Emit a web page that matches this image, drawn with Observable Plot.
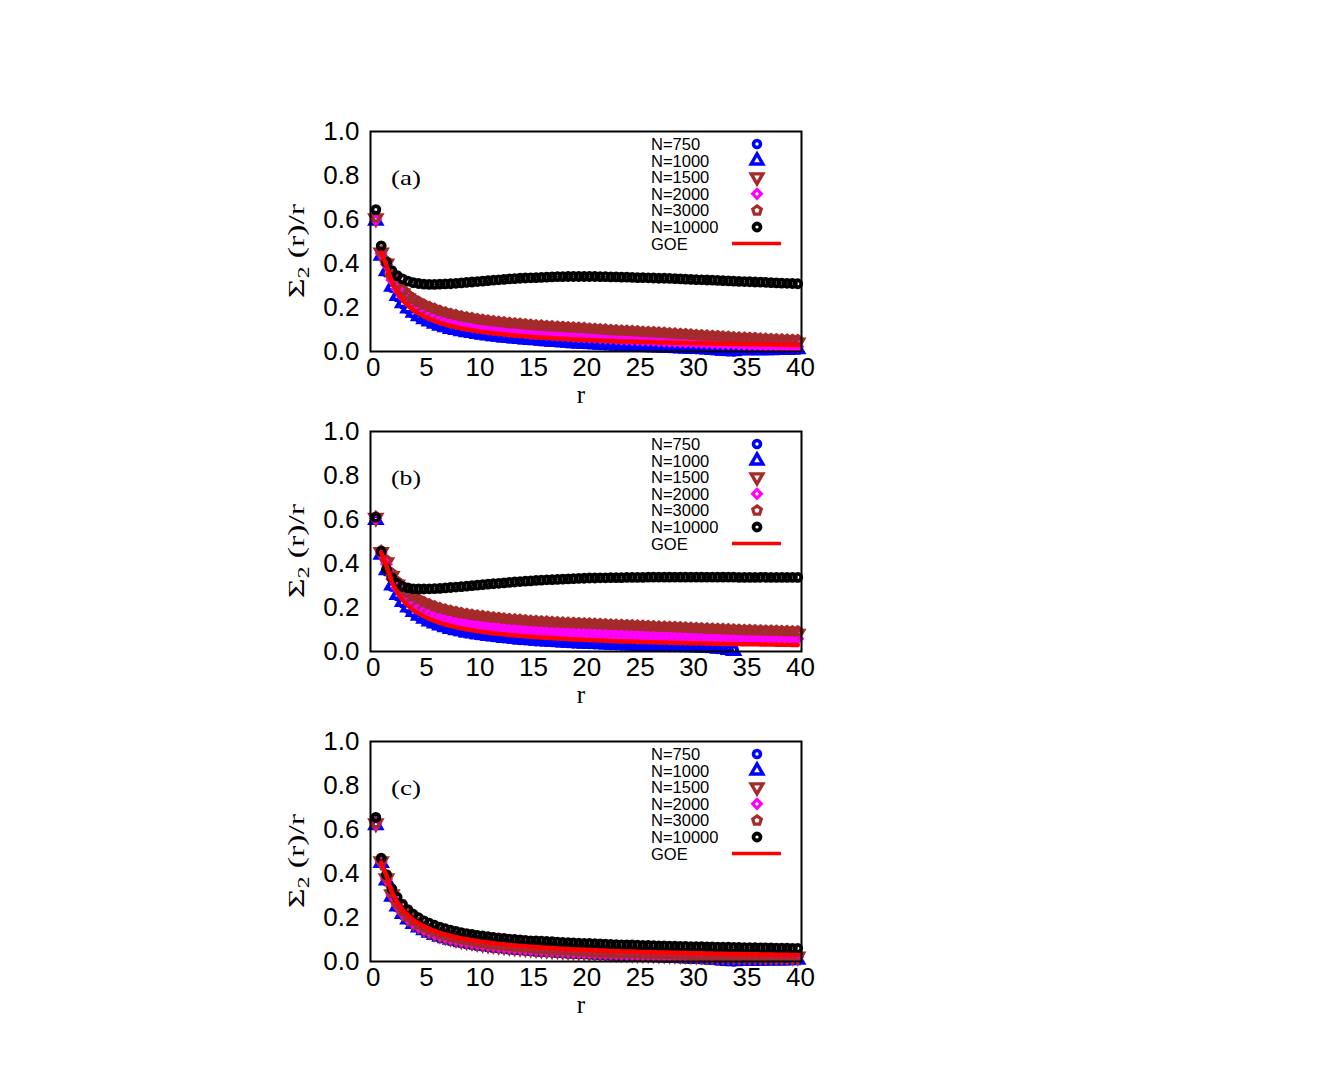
<!DOCTYPE html>
<html><head><meta charset="utf-8">
<script src="https://cdn.jsdelivr.net/npm/d3@7"></script>
<script src="https://cdn.jsdelivr.net/npm/@observablehq/plot@0.6"></script>
<style>
body{margin:0;background:#fff;}
#page{position:relative;width:1329px;height:1080px;overflow:hidden;background:#fff;}
.panel{position:absolute;left:270px;}
#overlay{position:absolute;left:0;top:0;pointer-events:none;}
</style></head><body><div id="page"></div>
<script>
// ---------- data ----------
const rGrid = [0.25,0.75,1.25,1.75,2.25,2.75,3.25,3.75,4.25,4.75,5.25,5.75,6.25,6.75,7.25,7.75,8.25,8.75,9.25,9.75,
10.25,10.75,11.25,11.75,12.25,12.75,13.25,13.75,14.25,14.75,15.25,15.75,16.25,16.75,17.25,17.75,18.25,18.75,19.25,19.75,
20.25,20.75,21.25,21.75,22.25,22.75,23.25,23.75,24.25,24.75,25.25,25.75,26.25,26.75,27.25,27.75,28.25,28.75,29.25,29.75,
30.25,30.75,31.25,31.75,32.25,32.75,33.25,33.75,34.25,34.75,35.25,35.75,36.25,36.75,37.25,37.75,38.25,38.75,39.25,39.75];

const goeR = rGrid.slice(1);
const goeV = [0.450,0.390,0.317,0.270,0.235,0.210,0.189,0.173,0.160,
0.148,0.139,0.130,0.123,0.116,0.111,0.105,0.101,0.097,0.093,
0.089,0.086,0.083,0.080,0.078,0.075,0.073,0.071,0.069,0.067,
0.065,0.064,0.062,0.061,0.059,0.058,0.057,0.055,0.054,0.053,
0.052,0.051,0.050,0.049,0.048,0.047,0.046,0.046,0.045,0.044,
0.043,0.043,0.042,0.041,0.041,0.040,0.040,0.039,0.0385,0.038,
0.037,0.037,0.0365,0.036,0.0355,0.035,0.0346,0.034,0.034,0.033,
0.033,0.033,0.032,0.032,0.0315,0.031,0.031,0.0305,0.030,0.030];

// panel (a)
const a750 = [0.600,0.440,0.360,0.290,0.248,0.216,0.192,0.173,0.157,0.144,
0.133,0.123,0.115,0.108,0.101,0.096,0.090,0.086,0.082,0.078,
0.075,0.071,0.068,0.065,0.063,0.060,0.058,0.056,0.054,0.052,
0.050,0.048,0.046,0.044,0.042,0.041,0.039,0.037,0.036,0.034,
0.033,0.032,0.030,0.029,0.028,0.026,0.025,0.024,0.023,0.022,
0.021,0.020,0.019,0.018,0.017,0.016,0.015,0.014,0.013,0.012,
0.011,0.010,0.008,0.007,0.005,0.003,0.001,0.000];
const a1000 = [0.595,0.435,0.365,0.295,0.252,0.220,0.196,0.176,0.160,0.147,
0.136,0.126,0.117,0.110,0.103,0.098,0.092,0.088,0.084,0.080,
0.076,0.073,0.070,0.067,0.064,0.062,0.059,0.057,0.055,0.053,
0.051,0.049,0.047,0.045,0.043,0.042,0.040,0.038,0.037,0.035,
0.034,0.033,0.031,0.030,0.029,0.027,0.026,0.025,0.024,0.023,
0.022,0.021,0.020,0.019,0.018,0.017,0.016,0.015,0.014,0.013,
0.012,0.011,0.009,0.008,0.006,0.004,0.002,0.001,0.006,0.006,
0.006,0.006,0.006,0.006,0.006,0.007,0.007,0.007,0.008,0.010];
const a1500 = [0.605,0.450,0.400,0.335,0.296,0.265,0.242,0.224,0.210,0.198,
0.187,0.178,0.169,0.162,0.155,0.150,0.144,0.140,0.136,0.132,
0.128,0.125,0.122,0.119,0.117,0.114,0.112,0.110,0.108,0.106,
0.104,0.102,0.100,0.099,0.097,0.096,0.094,0.093,0.092,0.090,
0.089,0.088,0.086,0.085,0.083,0.082,0.081,0.079,0.078,0.077,
0.075,0.074,0.073,0.071,0.070,0.068,0.067,0.065,0.064,0.062,
0.061,0.060,0.058,0.057,0.056,0.054,0.053,0.052,0.051,0.050,
0.049,0.048,0.047,0.046,0.045,0.044,0.043,0.042,0.042,0.041];
const a2000 = [0.600,0.445,0.395,0.325,0.283,0.250,0.226,0.206,0.190,0.177,
0.165,0.156,0.147,0.140,0.133,0.128,0.122,0.118,0.114,0.110,
0.106,0.103,0.100,0.097,0.095,0.092,0.090,0.088,0.086,0.083,
0.081,0.080,0.078,0.076,0.074,0.073,0.071,0.069,0.068,0.066,
0.065,0.064,0.062,0.061,0.059,0.058,0.056,0.055,0.054,0.053,
0.052,0.051,0.050,0.048,0.047,0.046,0.045,0.044,0.043,0.042,
0.041,0.040,0.039,0.038,0.037,0.036,0.035,0.034,0.033,0.032,
0.031,0.030,0.029,0.028,0.027,0.026,0.025,0.024,0.023,0.022];
const a3000 = [0.610,0.455,0.410,0.347,0.310,0.280,0.258,0.240,0.226,0.214,
0.203,0.194,0.185,0.178,0.171,0.166,0.160,0.156,0.152,0.148,
0.144,0.141,0.138,0.135,0.133,0.130,0.128,0.126,0.124,0.122,
0.119,0.118,0.116,0.115,0.113,0.112,0.110,0.109,0.108,0.107,
0.104,0.103,0.101,0.100,0.098,0.097,0.095,0.094,0.093,0.092,
0.090,0.089,0.088,0.086,0.085,0.083,0.082,0.080,0.079,0.077,
0.075,0.074,0.073,0.071,0.070,0.068,0.067,0.065,0.064,0.063,
0.062,0.061,0.059,0.058,0.057,0.056,0.055,0.054,0.053,0.052];
const a10000 = [0.645,0.480,0.405,0.368,0.345,0.330,0.320,0.313,0.309,0.306,
0.305,0.305,0.306,0.307,0.308,0.310,0.312,0.314,0.316,0.318,
0.320,0.322,0.324,0.326,0.328,0.330,0.331,0.333,0.334,0.335,
0.336,0.337,0.338,0.339,0.340,0.340,0.341,0.341,0.341,0.341,
0.341,0.341,0.340,0.340,0.339,0.339,0.338,0.338,0.337,0.336,
0.336,0.335,0.334,0.333,0.333,0.332,0.331,0.330,0.329,0.328,
0.327,0.326,0.325,0.324,0.323,0.322,0.321,0.320,0.319,0.318,
0.317,0.316,0.315,0.314,0.313,0.312,0.311,0.310,0.309,0.308];

// panel (b)
const b750 = [0.600,0.445,0.365,0.295,0.252,0.220,0.196,0.176,0.159,0.145,
0.133,0.123,0.114,0.106,0.099,0.093,0.088,0.083,0.079,0.075,
0.072,0.069,0.066,0.063,0.060,0.058,0.055,0.053,0.051,0.049,
0.047,0.046,0.044,0.043,0.041,0.040,0.039,0.037,0.036,0.035,
0.034,0.033,0.032,0.031,0.030,0.029,0.028,0.027,0.026,0.026,
0.025,0.024,0.023,0.023,0.022,0.021,0.021,0.020,0.019,0.019,
0.018,0.017,0.016,0.014,0.012,0.010,0.008,0.008];
const b1000 = [0.598,0.440,0.370,0.300,0.257,0.225,0.200,0.180,0.163,0.149,
0.137,0.127,0.118,0.110,0.103,0.097,0.092,0.087,0.083,0.079,
0.075,0.072,0.069,0.066,0.063,0.061,0.058,0.056,0.054,0.052,
0.050,0.048,0.047,0.045,0.044,0.042,0.041,0.040,0.038,0.037,
0.036,0.035,0.034,0.033,0.032,0.031,0.030,0.029,0.028,0.028,
0.027,0.026,0.025,0.025,0.024,0.023,0.023,0.022,0.021,0.021,
0.020,0.019,0.018,0.016,0.014,0.011,0.007,0.003];
const b1500 = [0.608,0.452,0.405,0.343,0.304,0.275,0.252,0.234,0.219,0.207,
0.196,0.187,0.179,0.172,0.166,0.161,0.156,0.152,0.148,0.145,
0.142,0.139,0.136,0.134,0.131,0.129,0.127,0.125,0.123,0.122,
0.120,0.119,0.117,0.116,0.115,0.114,0.113,0.112,0.111,0.110,
0.109,0.108,0.107,0.106,0.105,0.104,0.103,0.102,0.101,0.100,
0.099,0.099,0.098,0.097,0.096,0.095,0.095,0.094,0.093,0.092,
0.092,0.091,0.090,0.089,0.089,0.088,0.087,0.087,0.086,0.085,
0.085,0.084,0.083,0.083,0.082,0.082,0.081,0.081,0.080,0.080];
const b2000 = [0.605,0.448,0.398,0.330,0.289,0.257,0.233,0.213,0.197,0.184,
0.172,0.163,0.155,0.148,0.141,0.136,0.131,0.127,0.123,0.119,
0.116,0.113,0.110,0.107,0.105,0.102,0.100,0.098,0.096,0.094,
0.093,0.091,0.090,0.088,0.087,0.086,0.085,0.084,0.083,0.082,
0.081,0.080,0.079,0.078,0.077,0.076,0.075,0.075,0.074,0.073,
0.072,0.072,0.071,0.070,0.070,0.069,0.068,0.068,0.067,0.067,
0.066,0.066,0.065,0.065,0.064,0.064,0.063,0.063,0.062,0.062,
0.061,0.061,0.061,0.060,0.060,0.059,0.059,0.059,0.058,0.058];
const b3000 = [0.612,0.458,0.415,0.355,0.318,0.290,0.268,0.251,0.237,0.225,
0.215,0.206,0.198,0.191,0.185,0.180,0.175,0.171,0.167,0.164,
0.161,0.158,0.155,0.153,0.150,0.148,0.146,0.144,0.142,0.140,
0.139,0.137,0.136,0.134,0.133,0.132,0.131,0.130,0.129,0.128,
0.127,0.126,0.125,0.124,0.123,0.122,0.121,0.120,0.119,0.118,
0.117,0.116,0.115,0.114,0.113,0.112,0.111,0.110,0.109,0.108,
0.107,0.106,0.105,0.104,0.103,0.102,0.101,0.100,0.099,0.098,
0.098,0.097,0.096,0.095,0.095,0.094,0.093,0.093,0.092,0.092];
const b10000 = [0.610,0.455,0.375,0.335,0.310,0.296,0.289,0.285,0.284,0.284,
0.285,0.286,0.287,0.289,0.291,0.293,0.295,0.297,0.299,0.302,
0.304,0.306,0.308,0.310,0.312,0.314,0.316,0.318,0.320,0.321,
0.323,0.324,0.326,0.327,0.328,0.329,0.330,0.331,0.332,0.333,
0.334,0.334,0.335,0.335,0.336,0.336,0.336,0.337,0.337,0.337,
0.337,0.338,0.338,0.338,0.338,0.338,0.338,0.338,0.338,0.338,
0.338,0.338,0.338,0.338,0.338,0.338,0.338,0.338,0.337,0.337,
0.337,0.337,0.337,0.337,0.337,0.337,0.337,0.337,0.337,0.337];

// panel (c)
const c750 = [0.622,0.450,0.365,0.292,0.247,0.213,0.188,0.168,0.152,0.139,
0.128,0.118,0.110,0.103,0.097,0.091,0.086,0.082,0.078,0.074,
0.070,0.067,0.064,0.061,0.059,0.056,0.054,0.052,0.050,0.048,
0.046,0.045,0.043,0.042,0.040,0.039,0.037,0.036,0.035,0.034,
0.033,0.032,0.030,0.029,0.028,0.027,0.026,0.025,0.024,0.023,
0.022,0.021,0.020,0.019,0.018,0.017,0.016,0.015,0.014,0.013,
0.012,0.011,0.009,0.008,0.006,0.004,0.002,0.000];
const c1000 = [0.620,0.448,0.368,0.295,0.250,0.216,0.191,0.171,0.155,0.142,
0.131,0.121,0.113,0.106,0.099,0.094,0.088,0.084,0.080,0.076,
0.072,0.069,0.066,0.063,0.061,0.058,0.056,0.054,0.052,0.050,
0.048,0.046,0.045,0.043,0.042,0.040,0.039,0.037,0.036,0.035,
0.034,0.033,0.031,0.030,0.029,0.028,0.027,0.026,0.025,0.024,
0.023,0.022,0.021,0.020,0.019,0.018,0.017,0.016,0.015,0.014,
0.013,0.012,0.010,0.009,0.007,0.005,0.003,0.001,0.004,0.004,
0.004,0.004,0.004,0.005,0.005,0.005,0.005,0.006,0.006,0.008];
const c1500 = [0.628,0.455,0.378,0.305,0.259,0.225,0.200,0.180,0.164,0.151,
0.140,0.131,0.122,0.115,0.108,0.103,0.097,0.093,0.089,0.085,
0.081,0.078,0.075,0.072,0.070,0.067,0.065,0.063,0.061,0.059,
0.057,0.055,0.054,0.052,0.051,0.049,0.048,0.047,0.046,0.045,
0.043,0.042,0.041,0.040,0.039,0.038,0.037,0.037,0.036,0.035,
0.034,0.034,0.033,0.032,0.032,0.031,0.031,0.030,0.030,0.029,
0.028,0.028,0.028,0.027,0.027,0.026,0.026,0.025,0.025,0.025,
0.025,0.025,0.024,0.024,0.024,0.023,0.023,0.023,0.022,0.022];
const c2000 = [0.625,0.452,0.375,0.302,0.256,0.222,0.197,0.177,0.161,0.148,
0.137,0.128,0.120,0.113,0.106,0.101,0.095,0.091,0.087,0.083,
0.079,0.076,0.073,0.070,0.068,0.065,0.063,0.061,0.059,0.057,
0.055,0.054,0.052,0.051,0.049,0.048,0.047,0.045,0.044,0.043,
0.042,0.041,0.040,0.039,0.038,0.037,0.036,0.035,0.035,0.034,
0.033,0.033,0.032,0.031,0.031,0.030,0.030,0.029,0.029,0.028,
0.027,0.027,0.027,0.026,0.026,0.025,0.025,0.024,0.024,0.024,
0.024,0.024,0.023,0.023,0.023,0.022,0.022,0.022,0.021,0.021];
const c3000 = [0.630,0.458,0.382,0.310,0.264,0.230,0.205,0.185,0.169,0.156,
0.144,0.135,0.126,0.119,0.112,0.107,0.101,0.097,0.093,0.089,
0.084,0.081,0.078,0.075,0.073,0.070,0.068,0.066,0.064,0.062,
0.059,0.058,0.056,0.055,0.053,0.052,0.051,0.049,0.048,0.047,
0.045,0.044,0.043,0.042,0.041,0.040,0.039,0.039,0.038,0.037,
0.036,0.036,0.035,0.034,0.034,0.033,0.033,0.032,0.032,0.031,
0.030,0.030,0.030,0.029,0.029,0.028,0.028,0.027,0.027,0.026,
0.027,0.027,0.026,0.026,0.026,0.025,0.025,0.025,0.024,0.024];
const c10000 = [0.655,0.470,0.395,0.330,0.292,0.260,0.236,0.215,0.199,0.185,
0.174,0.165,0.156,0.149,0.142,0.137,0.131,0.127,0.123,0.119,
0.116,0.113,0.110,0.107,0.105,0.102,0.100,0.098,0.096,0.094,
0.094,0.093,0.091,0.090,0.088,0.087,0.086,0.084,0.083,0.082,
0.082,0.081,0.080,0.079,0.078,0.077,0.076,0.076,0.075,0.074,
0.073,0.073,0.072,0.071,0.071,0.070,0.070,0.069,0.069,0.068,
0.067,0.067,0.066,0.066,0.065,0.065,0.065,0.064,0.064,0.063,
0.063,0.063,0.062,0.062,0.062,0.061,0.061,0.061,0.060,0.060];

const seriesNames = ["N=750","N=1000","N=1500","N=2000","N=3000","N=10000"];
const seriesColors = ["#0000ff","#0000ff","#a52a2a","#ff00ff","#a52a2a","#000000"];
const panelLabels = ["(a)","(b)","(c)"];
const xTicks = [0,5,10,15,20,25,30,35,40];
const yTicks = [0,0.2,0.4,0.6,0.8,1.0];

// ---------- symbols ----------
const S3 = Math.sqrt(3);
const triDown = {draw(ctx, size){ const y = -Math.sqrt(size/(S3*3)); ctx.moveTo(0,-2*y); ctx.lineTo(-S3*y,y); ctx.lineTo(S3*y,y); ctx.closePath(); }};
const pentagon = {draw(ctx, size){ const R = Math.sqrt(size/2.378); for(let i=0;i<5;i++){ const a=-Math.PI/2+i*2*Math.PI/5; const x=R*Math.cos(a), y=R*Math.sin(a); if(i) ctx.lineTo(x,y); else ctx.moveTo(x,y);} ctx.closePath(); }};
const seriesSymbols = [d3.symbolCircle, d3.symbolTriangle, triDown, d3.symbolDiamond2, pentagon, d3.symbolCircle];
const seriesR = [3.5, 4.3, 4.3, 3.9, 3.9, 3.5];
const seriesSW = [3.6, 3.4, 3.4, 3.2, 3.2, 3.8];

const panels = [
  {data:[a750,a1000,a1500,a2000,a3000,a10000], top:131},
  {data:[b750,b1000,b1500,b2000,b3000,b10000], top:431},
  {data:[c750,c1000,c1500,c2000,c3000,c10000], top:741}
];

const page = document.getElementById("page");
const goeRows = goeR.map((r,i)=>({r, v:goeV[i]}));

panels.forEach((p, pi) => {
  const dotMarks = p.data.map((vals, si) =>
    Plot.dot(vals.map((v,i)=>({r:rGrid[i], v})), {
      x:"r", y:"v", stroke:seriesColors[si], fill:"none",
      symbol:seriesSymbols[si], r:seriesR[si], strokeWidth:seriesSW[si]
    }));
  const chart = Plot.plot({
    width:560, height:300,
    marginLeft:100, marginRight:29, marginTop:20, marginBottom:60,
    x:{domain:[-0.25,40.1]},
    y:{domain:[0,1]},
    style:{fontFamily:"'Liberation Sans', Arial, Helvetica, sans-serif", fontSize:"26px", color:"#000", background:"transparent", overflow:"visible"},
    marks:[
      Plot.axisX({ticks:xTicks, tickSize:0, tickPadding:6, label:null, fontSize:26, tickFormat:d=>String(d)}),
      Plot.axisY({ticks:yTicks, tickSize:0, tickPadding:11, label:null, fontSize:26, tickFormat:d=>d.toFixed(1)}),
      ...dotMarks,
      Plot.line(goeRows, {x:"r", y:"v", stroke:"#ff0000", strokeWidth:4.5, curve:"monotone-x"}),
      Plot.frame({stroke:"#000", strokeWidth:2})
    ]
  });
  chart.classList.add("panel");
  chart.style.top = (p.top - 20) + "px";
  page.appendChild(chart);
});

// ---------- overlay: labels and legends ----------
const ov = d3.select(page).append("svg").attr("id","overlay").attr("width",1329).attr("height",1080);
panels.forEach((p, pi) => {
  const o = p.top - 131;
  // y label
  const yl = ov.append("text")
    .attr("transform", `translate(304,${251+o}) rotate(-90)`)
    .attr("text-anchor","middle")
    .attr("font-family","'Liberation Serif','Times New Roman',serif")
    .attr("font-size",23)
    .attr("textLength",94).attr("lengthAdjust","spacingAndGlyphs");
  yl.append("tspan").text("Σ");
  yl.append("tspan").attr("dy",5).attr("font-size",16).text("2");
  yl.append("tspan").attr("dy",-5).text(" (r)/r");
  // x label
  ov.append("text").attr("x",581).attr("y",403+o).attr("text-anchor","middle")
    .attr("font-family","'Liberation Serif','Times New Roman',serif").attr("font-size",25).text("r");
  // panel label
  ov.append("text").attr("x",391).attr("y",185+o)
    .attr("font-family","'Liberation Serif','Times New Roman',serif").attr("font-size",22)
    .attr("textLength",30).attr("lengthAdjust","spacingAndGlyphs").text(panelLabels[pi]);
  // legend
  const rowY = [144,160.6,177.2,193.8,210.4,227,243.6].map(y=>y+o);
  const names = [...seriesNames, "GOE"];
  names.forEach((nm, i) => {
    ov.append("text").attr("x",651).attr("y",rowY[i]).attr("dy","0.36em")
      .attr("font-family","'Liberation Sans', Arial, sans-serif").attr("font-size",16.5).text(nm);
    if (i < 6) {
      ov.append("path")
        .attr("d", d3.symbol(seriesSymbols[i], Math.PI*seriesR[i]*seriesR[i])())
        .attr("transform", `translate(757,${rowY[i]})`)
        .attr("fill","none").attr("stroke",seriesColors[i]).attr("stroke-width",seriesSW[i]);
    } else {
      ov.append("line").attr("x1",732).attr("x2",781).attr("y1",rowY[i]).attr("y2",rowY[i])
        .attr("stroke","#ff0000").attr("stroke-width",3.5);
    }
  });
});
</script></body></html>
